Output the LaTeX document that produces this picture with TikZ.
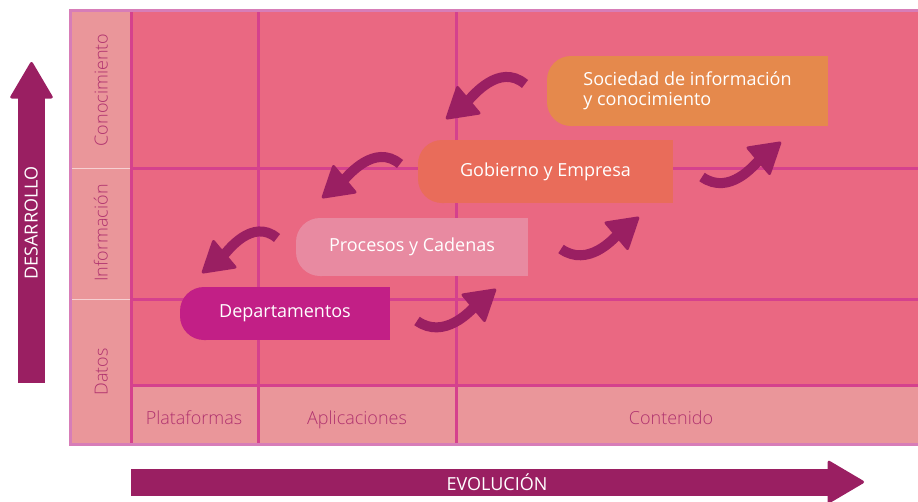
\documentclass[tikz,border=0pt]{standalone}
\usepackage{fontspec}
\setmainfont{Open Sans}
\newfontfamily\ligera{Open Sans Light}
\usetikzlibrary{arrows.meta}
\definecolor{celda}{HTML}{EA6882}
\definecolor{rotulo}{HTML}{EA969A}
\definecolor{rejilla}{HTML}{D5418D}
\definecolor{marco}{HTML}{D77DB8}
\definecolor{flecha}{HTML}{9A1F62}
\definecolor{letra}{HTML}{B0336F}
\definecolor{naranja}{HTML}{E5894C}
\definecolor{coral}{HTML}{E96C5A}
\definecolor{rosa}{HTML}{E88AA1}
\definecolor{depto}{HTML}{C21F86}

\begin{document}
\begin{tikzpicture}[x=1pt, y=1pt,
    caja/.style={text=white, font=\fontsize{18}{20}\selectfont, align=left, inner sep=0pt,
        path picture={
            \fill[#1] ([xshift=22pt]path picture bounding box.north west) rectangle (path picture bounding box.south east);
            \fill[#1, rounded corners=24pt] (path picture bounding box.north west) rectangle ([xshift=50pt]path picture bounding box.south west);
        }},
    fila/.style={text=letra, font=\ligera\fontsize{18}{20}\selectfont, inner sep=0pt, text height=13pt, text depth=4pt},
    eje/.style={flecha, line width=27pt, -{Triangle[length=38pt, width=44pt, line width=3pt, round]}},
    eti/.style={text=white, font=\fontsize{18}{20}\selectfont, inner sep=0pt, text height=13pt, text depth=0pt},
    giro/.style={flecha, line width=10pt, -{Triangle[length=32pt, width=38pt, line width=3pt, round]}}]
\useasboundingbox (0,0) rectangle (918,-501);

\fill[rotulo] (72,-12) rectangle (920,-443);
\fill[celda] (131,-12) rectangle (920,-385);
\foreach \x in {131,258,456}
{
    \draw[rejilla, line width=3pt] (\x,-12)--(\x,-443);
}
\foreach \y in {168,299,385}
{
    \draw[rejilla, line width=3pt] (131,-\y)--(920,-\y);
}
\foreach \y in {168,299}
{
    \draw[white!55!rotulo, line width=1pt] (72,-\y)--(130,-\y);
}
\draw[marco, line width=3pt] (70.5,-10.5) rectangle (921,-444.5);

\foreach \y/\ytext in {90/Conocimiento, 233/Información, 372/Datos}
{
    \node (f\y) at (103,-\y)[fila, rotate=90]{\ytext};
}
\foreach \x/\xtext in {194/Plataformas, 357/Aplicaciones, 671/Contenido}
{
    \node (c\x) at (\x,-420)[fila]{\xtext};
}

\coordinate (d0) at (31.5,-383);
\coordinate (d1) at (31.5,-62);
\coordinate (e0) at (131,-482);
\coordinate (e1) at (864,-482);
\draw[eje] (d0)--(d1);
\draw[eje] (e0)--(e1);
\node (D) at (31,-223)[eti, rotate=90]{DESARROLLO};
\node (E) at (497,-483.5)[eti]{EVOLUCIÓN};

\node (soc) at (687.5,-91)[caja=naranja, minimum width=281, minimum height=70]{Sociedad de información\\y conocimiento};
\node (gob) at (545.5,-171.5)[caja=coral, minimum width=255, minimum height=63]{Gobierno y Empresa};
\node (pro) at (412,-247)[caja=rosa, minimum width=232, minimum height=58]{Procesos y Cadenas};
\node (dep) at (285,-313.5)[caja=depto, minimum width=210, minimum height=53]{Departamentos};

\coordinate (a1) at (525,-84);
\coordinate (a2) at (446,-119);
\coordinate (b1) at (400,-164);
\coordinate (b2) at (322,-198);
\coordinate (c1) at (277,-238);
\coordinate (c2) at (202,-273);
\coordinate (g1) at (417,-321);
\coordinate (g2) at (496,-289);
\coordinate (h1) at (561,-249);
\coordinate (h2) at (639,-217);
\coordinate (k1) at (702,-177);
\coordinate (k2) at (781,-142);

\foreach \s/\t in {a1/a2, b1/b2, c1/c2}
{
    \draw[giro] (\s) to[out=140, in=40] (\t);
}
\foreach \s/\t in {g1/g2, h1/h2, k1/k2}
{
    \draw[giro] (\s) to[out=-35, in=220] (\t);
}
\end{tikzpicture}
\end{document}
